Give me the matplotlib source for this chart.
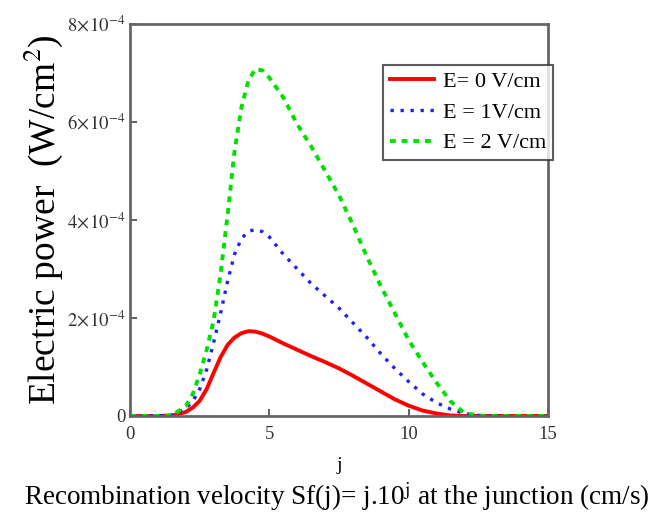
import numpy as np
import matplotlib
matplotlib.use('Agg')
import matplotlib.pyplot as plt

plt.rcParams['font.family'] = ['Liberation Serif', 'DejaVu Serif']
plt.rcParams['mathtext.fontset'] = 'stix'

# j values and electric power (x 1e-4 W/cm^2)
j = [0, 1, 1.5, 2, 2.25, 2.5, 2.75, 3, 3.25, 3.5, 3.75, 4, 4.25, 4.5, 4.75, 5,
     5.5, 6, 6.5, 7, 7.5, 8, 8.5, 9, 9.5, 10, 10.5, 11, 11.5, 12, 12.5, 13, 14, 15]
p_e0 = [0, 0, 0.01, 0.08, 0.17, 0.31, 0.55, 0.88, 1.2, 1.45, 1.6, 1.69, 1.73, 1.72, 1.68, 1.62,
        1.48, 1.35, 1.22, 1.1, 0.97, 0.82, 0.66, 0.5, 0.34, 0.21, 0.11, 0.05, 0.01, 0, 0, 0, 0, 0]
p_e1 = [0, 0, 0.01, 0.15, 0.3, 0.55, 0.95, 1.5, 2.1, 2.75, 3.3, 3.62, 3.77, 3.8, 3.76, 3.65,
        3.3, 3.0, 2.7, 2.45, 2.2, 1.9, 1.6, 1.27, 0.97, 0.7, 0.45, 0.27, 0.14, 0.05, 0.01, 0, 0, 0]
p_e2 = [0, 0, 0.01, 0.2, 0.45, 0.85, 1.35, 1.95, 2.9, 4.1, 5.4, 6.3, 6.85, 7.08, 7.05, 6.9,
        6.5, 5.95, 5.5, 5.0, 4.5, 3.9, 3.25, 2.65, 2.1, 1.55, 1.1, 0.68, 0.3, 0.06, 0.01, 0, 0, 0]
labels = ['E= 0 V/cm', 'E = 1V/cm', 'E = 2 V/cm']

fig = plt.figure(figsize=(6.57, 5.18), dpi=100)
ax = fig.add_axes([0.198, 0.197, 0.636, 0.757])

x = np.array(j)
ax.plot(x, np.array(p_e0) * 1e-4, color='#ff0000', lw=2.8, label=labels[0])
ax.plot(x, np.array(p_e1) * 1e-4, color='#1f1fff', lw=2.4, ls=(0, (1, 2)), label=labels[1])
ax.plot(x, np.array(p_e2) * 1e-4, color='#00e000', lw=2.8, ls=(0, (1.5, 1.5)), label=labels[2])

ax.set_xlim(0, 15)
ax.set_ylim(0, 8e-4)
ax.set_xticks([0, 5, 10, 15])
ax.set_yticks([0, 2e-4, 4e-4, 6e-4, 8e-4])
ax.set_yticklabels(['0', r'$2\!\times\!10^{-4}$', r'$4\!\times\!10^{-4}$',
                    r'$6\!\times\!10^{-4}$', r'$8\!\times\!10^{-4}$'])
ax.tick_params(direction='in', length=5, width=1.2, colors='#444444',
               labelcolor='#333333', labelsize=13.5)
ax.tick_params(axis='x', pad=7)
ax.tick_params(axis='y', pad=3)
for s in ax.spines.values():
    s.set_color('#666666')
    s.set_linewidth(2)

ax.set_xlabel('j', fontsize=14, labelpad=10)
fig.text(0.512, 0.025, r'Recombination velocity Sf(j)= j.10$^{\mathrm{j}}$ at the junction (cm/s)',
         ha='center', fontsize=19.5)
ax.set_ylabel(r'Electric power  (W/cm$^{2}$)', fontsize=27, labelpad=2)

leg = ax.legend(loc='upper right', bbox_to_anchor=(1.012, 0.895), fontsize=16,
                frameon=True, fancybox=False, handlelength=2.0, borderpad=0.3,
                labelspacing=0.45, handletextpad=0.4, borderaxespad=0)
leg.get_frame().set_edgecolor('#333333')
leg.get_frame().set_linewidth(1.5)

fig.savefig('out.png', dpi=100)
